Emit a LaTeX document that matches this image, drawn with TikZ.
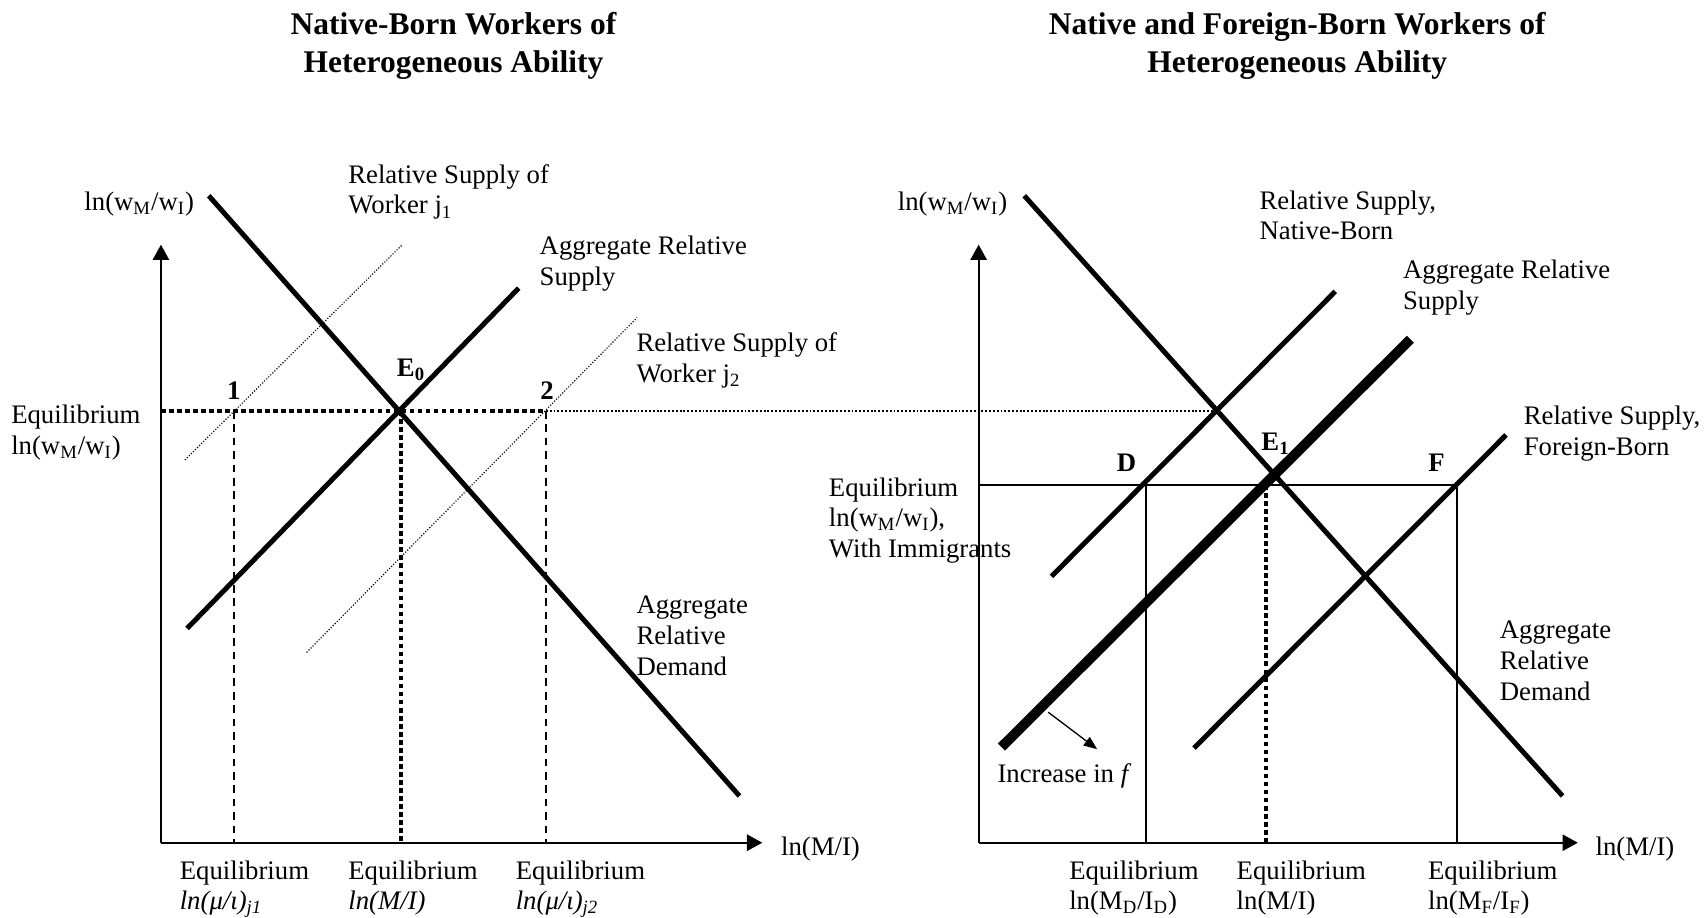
\documentclass[tikz,border=0pt]{standalone}
\usepackage{fontspec}
\setmainfont{Liberation Serif}
\usepackage{tikz}
\usetikzlibrary{arrows.meta, positioning}

\begin{document}
\begin{tikzpicture}[x=0.02cm, y=-0.02cm, font=\fontsize{14}{16}\selectfont]
\tikzstyle{axis} = [line width=1.1pt, -{Triangle[length=8pt, width=8.5pt]}]
\tikzstyle{curve} = [line width=2.6pt]
\tikzstyle{bigcurve} = [line width=5.2pt]
\tikzstyle{worker} = [line width=0.6pt, dash pattern=on 0.6pt off 0.9pt]
\tikzstyle{eqline} = [line width=2.2pt, dash pattern=on 2.4pt off 1.8pt]
\tikzstyle{farline} = [line width=1pt, dash pattern=on 1pt off 1pt]
\tikzstyle{guide} = [line width=1.1pt, dash pattern=on 4pt off 3pt]
\tikzstyle{level} = [line width=1.1pt]
\tikzstyle{lbl} = [inner sep=0pt, anchor=north west, align=left]
\tikzstyle{pt} = [inner sep=0pt, font=\fontsize{14}{16}\selectfont\bfseries]
\tikzstyle{title} = [align=center, font=\fontsize{16.5}{20}\selectfont\bfseries]

\useasboundingbox (0,0) rectangle (1568,844);

% titles
\node (titleL) [title] at (417,42) {Native-Born Workers of\\Heterogeneous Ability};
\node (titleR) [title] at (1193,42) {Native and Foreign-Born Workers of\\Heterogeneous Ability};

% left panel: native-born only
\coordinate (oL) at (148,775);
\coordinate (E0) at (369,378);
\coordinate (j1) at (215,378);
\coordinate (j2) at (502,378);

\draw [axis] (oL) -- (148,225);
\draw [axis] (oL) -- (701,775);

\draw [worker] (170,423) -- (370,225);
\draw [worker] (282,600) -- (586,292);
\draw [curve] (192,180) -- (680,732);
\draw [curve] (172,578) -- (477,265);

\draw [eqline] (148,378) -- (j2);
\draw [eqline] (E0) -- (E0 |- oL);
\draw [guide] (j1) -- (j1 |- oL);
\draw [guide] (j2) -- (j2 |- oL);

\node (n1) [pt] at (215,359) {1};
\node (nE0) [pt] at (378,340) {E\textsubscript{0}};
\node (n2) [pt] at (503,359) {2};

\node (wL) at (128,188) {ln(w\textsubscript{M}/w\textsubscript{I})};
\node (mL) [anchor=west, inner sep=0pt] at (718,781) {ln(M/I)};
\node (eqwL) [lbl] at (10,372) {Equilibrium\\ln(w\textsubscript{M}/w\textsubscript{I})};
\node (rsj1) [lbl] at (320,151) {Relative Supply of\\Worker j\textsubscript{1}};
\node (arsL) [lbl] at (496,217) {Aggregate Relative\\Supply};
\node (rsj2) [lbl] at (585,306) {Relative Supply of\\Worker j\textsubscript{2}};
\node (ardL) [lbl] at (585,548) {Aggregate\\Relative\\Demand};
\node (eqj1) [lbl] at (165,791) {Equilibrium\\\textit{ln(μ/ι)\textsubscript{j1}}};
\node (eqmL) [lbl] at (320,791) {Equilibrium\\\textit{ln(M/I)}};
\node (eqj2) [lbl] at (474,791) {Equilibrium\\\textit{ln(μ/ι)\textsubscript{j2}}};

% right panel: native and foreign-born
\coordinate (oR) at (900,775);
\coordinate (E1) at (1164,446);
\coordinate (ptD) at (1054,446);
\coordinate (ptF) at (1340,446);
\coordinate (cross) at (1119,378);

\draw [farline] (j2) -- (cross);

\draw [axis] (oR) -- (900,225);
\draw [axis] (oR) -- (1451,775);

\draw [level] (900,446) -- (ptF);
\draw [level] (ptD) -- (ptD |- oR);
\draw [level] (ptF) -- (ptF |- oR);
\draw [eqline] (E1) -- (E1 |- oR);

\draw [curve] (942,180) -- (1437,732);
\draw [curve] (967,530) -- (1228,268);
\draw [curve] (1098,688) -- (1385,400);
\draw [bigcurve] (921,687) -- (1297,312);

\draw [line width=0.7pt, -{Triangle[length=7pt, width=5.5pt]}] (964,655) -- (1009,689);

\node (nD) [pt] at (1036,426) {D};
\node (nE1) [pt] at (1173,408) {E\textsubscript{1}};
\node (nF) [pt] at (1321,426) {F};

\node (wR) at (876,188) {ln(w\textsubscript{M}/w\textsubscript{I})};
\node (mR) [anchor=west, inner sep=0pt] at (1467,781) {ln(M/I)};
\node (eqwR) [lbl] at (762,439) {Equilibrium\\ln(w\textsubscript{M}/w\textsubscript{I}),\\With Immigrants};
\node (rsN) [lbl] at (1158,175) {Relative Supply,\\Native-Born};
\node (arsR) [lbl] at (1290,239) {Aggregate Relative\\Supply};
\node (rsF) [lbl] at (1401,373) {Relative Supply,\\Foreign-Born};
\node (ardR) [lbl] at (1379,571) {Aggregate\\Relative\\Demand};
\node (incf) [anchor=west, inner sep=0pt] at (917,714) {Increase in \textit{f}};
\node (eqD) [lbl] at (983,791) {Equilibrium\\ln(M\textsubscript{D}/I\textsubscript{D})};
\node (eqmR) [lbl] at (1137,791) {Equilibrium\\ln(M/I)};
\node (eqF) [lbl] at (1313,791) {Equilibrium\\ln(M\textsubscript{F}/I\textsubscript{F})};

\end{tikzpicture}
\end{document}
